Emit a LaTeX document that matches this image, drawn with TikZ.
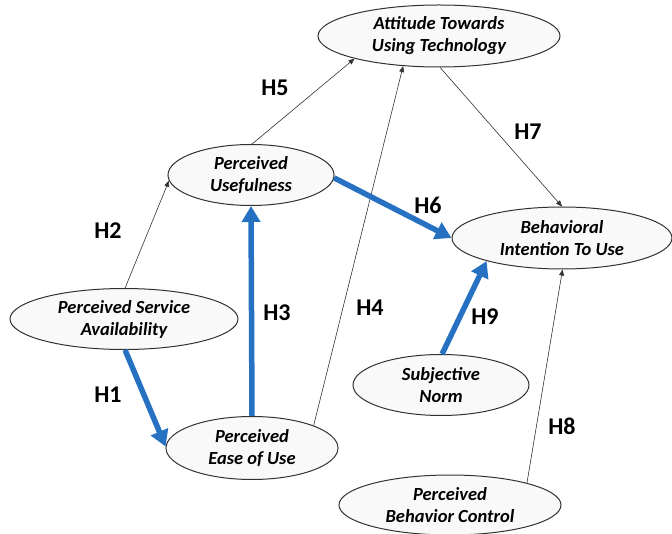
\documentclass[tikz,border=0pt]{standalone}
\usepackage{fontspec}
\setmainfont{Carlito}
\usetikzlibrary{shapes.geometric,arrows.meta}
\definecolor{pathblue}{RGB}{38,113,193}
\definecolor{rimgray}{RGB}{50,50,50}
\begin{document}
\begin{tikzpicture}[x=1pt,y=-1pt,
  construct/.style={ellipse, draw=rimgray, line width=1pt, fill=gray!5,
    inner sep=0pt, align=center,
    font=\fontsize{18.5}{22}\selectfont\bfseries\itshape},
  weak/.style={draw=black!80, line width=0.6pt, -{Triangle[width=5pt,length=6pt]}},
  strong/.style={draw=pathblue, line width=5.5pt, -{Triangle[width=18pt,length=16pt]}},
  hyp/.style={font=\fontsize{24}{26}\selectfont\bfseries}]
\useasboundingbox (0,0) rectangle (672,534);

% constructs
\node[construct, minimum width=242pt, minimum height=62pt] (att) at (439,36) {Attitude Towards\\Using Technology};
\node[construct, minimum width=166pt, minimum height=61pt] (pu) at (251,175) {Perceived\\Usefulness};
\node[construct, minimum width=220pt, minimum height=62pt] (bi) at (562,238) {Behavioral\\Intention To Use};
\node[construct, minimum width=228pt, minimum height=61pt] (psa) at (124,319) {Perceived Service\\Availability};
\node[construct, minimum width=172pt, minimum height=63pt] (peu) at (252,448) {Perceived\\Ease of Use};
\node[construct, minimum width=176pt, minimum height=61pt] (sn) at (441,385) {Subjective\\Norm};
\node[construct, minimum width=222pt, minimum height=60pt] (pbc) at (450,505) {Perceived\\Behavior Control};

% hypothesised paths
\draw[strong] (psa.-88) -- (peu.179);
\draw[weak] (psa.88) -- (pu.184);
\draw[strong] (peu.90) -- (pu.-90);
\draw[weak] (peu.20) -- (att.220);
\draw[weak] (pu.88) -- (att.195);
\draw[strong] (pu.-2) -- (bi.180);
\draw[weak] (att.-88) -- (bi.90);
\draw[weak] (pbc.16) -- (bi.-89);
\draw[strong] (sn.88) -- (bi.197);

% path labels
\node[hyp] (h1) at (108,395) {H1};
\node[hyp] (h2) at (108,231) {H2};
\node[hyp] (h3) at (277,313) {H3};
\node[hyp] (h4) at (370,308) {H4};
\node[hyp] (h5) at (275,88) {H5};
\node[hyp] (h6) at (428,205) {H6};
\node[hyp] (h7) at (528,132) {H7};
\node[hyp] (h8) at (562,426) {H8};
\node[hyp] (h9) at (485,317) {H9};
\end{tikzpicture}
\end{document}
